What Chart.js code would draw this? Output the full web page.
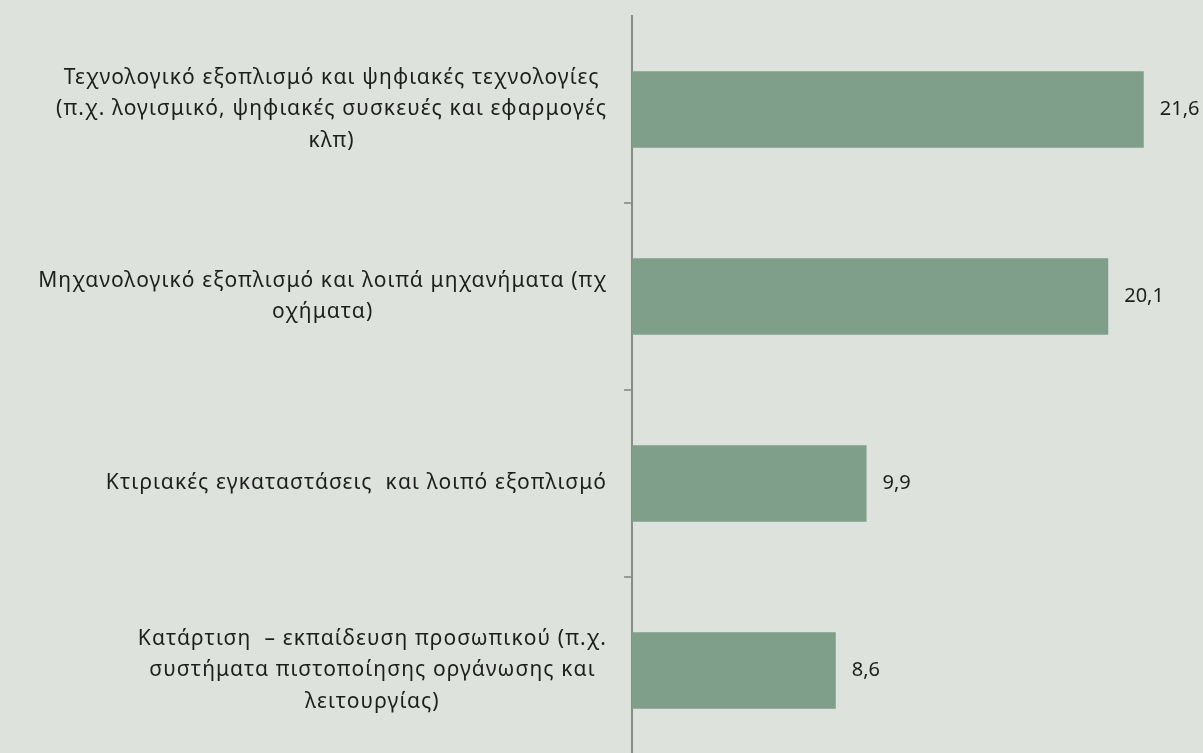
<!DOCTYPE html>
<html lang="el">
<head>
    <meta charset="UTF-8">
    <title>Επενδύσεις</title>
    <script src="https://cdn.jsdelivr.net/npm/chart.js"></script>
    <style>
        html, body { margin: 0; padding: 0; background: #dde3dc; overflow: hidden; }
        #wrap { width: 1203px; height: 768px; }
    </style>
</head>
<body>
    <div id="wrap">
        <canvas id="chart"></canvas>
    </div>

    <script>
        // Δεδομένα
        const categories = [
            ['Τεχνολογικό εξοπλισμό και ψηφιακές τεχνολογίες', '(π.χ. λογισμικό, ψηφιακές συσκευές και εφαρμογές', 'κλπ)'],
            ['Μηχανολογικό εξοπλισμό και λοιπά μηχανήματα (πχ', 'οχήματα)'],
            ['Κτιριακές εγκαταστάσεις  και λοιπό εξοπλισμό'],
            ['Κατάρτιση  – εκπαίδευση προσωπικού (π.χ.', 'συστήματα πιστοποίησης οργάνωσης και', 'λειτουργίας)']
        ];
        const values = [21.6, 20.1, 9.9, 8.6];

        const FONT = '"Noto Sans", sans-serif';
        const TEXT = '#1e1e1e';

        // Ετικέτες κατηγοριών: δεξιά στοίχιση του μπλοκ, κεντραρισμένες γραμμές
        const catLabels = {
            id: 'catLabels',
            afterDraw(chart) {
                const ctx = chart.ctx;
                const yScale = chart.scales.y;
                const rightEdge = yScale.right - 25;
                const lineH = 31.5;
                ctx.save();
                ctx.font = '21px ' + FONT;
                ctx.letterSpacing = '1.1px';
                ctx.fillStyle = TEXT;
                ctx.textAlign = 'center';
                ctx.textBaseline = 'middle';
                categories.forEach((lines, i) => {
                    const y = yScale.getPixelForValue(i);
                    const widest = Math.max(...lines.map(l => ctx.measureText(l).width));
                    const cx = rightEdge - widest / 2;
                    const top = y - (lines.length - 1) * lineH / 2;
                    lines.forEach((l, k) => ctx.fillText(l, cx, top + k * lineH));
                });
                ctx.restore();
            }
        };

        // Τιμές δίπλα στις μπάρες
        const valueLabels = {
            id: 'valueLabels',
            afterDatasetsDraw(chart) {
                const ctx = chart.ctx;
                const meta = chart.getDatasetMeta(0);
                ctx.save();
                ctx.font = '20px ' + FONT;
                ctx.fillStyle = TEXT;
                ctx.textAlign = 'left';
                ctx.textBaseline = 'middle';
                meta.data.forEach((bar, i) => {
                    ctx.fillText(values[i].toFixed(1).replace('.', ','), bar.x + 16, bar.y);
                });
                ctx.restore();
            }
        };

        new Chart(document.getElementById('chart'), {
            type: 'bar',
            data: {
                labels: categories,
                datasets: [{
                    data: values,
                    backgroundColor: '#7f9f8a',
                    borderWidth: 0,
                    barPercentage: 0.41,
                    categoryPercentage: 1
                }]
            },
            options: {
                indexAxis: 'y',
                responsive: true,
                maintainAspectRatio: false,
                animation: false,
                layout: { padding: { top: 16, bottom: 4, right: 0, left: 0 } },
                plugins: { legend: { display: false }, tooltip: { enabled: false } },
                scales: {
                    x: { display: false, min: 0, max: 24.1 },
                    y: {
                        afterFit: scale => { scale.width = 632; },
                        border: { display: true, color: '#8a8a8a', width: 2 },
                        grid: {
                            offset: true,
                            drawOnChartArea: false,
                            tickLength: 8,
                            lineWidth: 2,
                            color: c => c.index === 0 ? 'rgba(0,0,0,0)' : '#9a9a9a'
                        },
                        ticks: { display: false }
                    }
                }
            },
            plugins: [catLabels, valueLabels]
        });
    </script>
</body>
</html>
